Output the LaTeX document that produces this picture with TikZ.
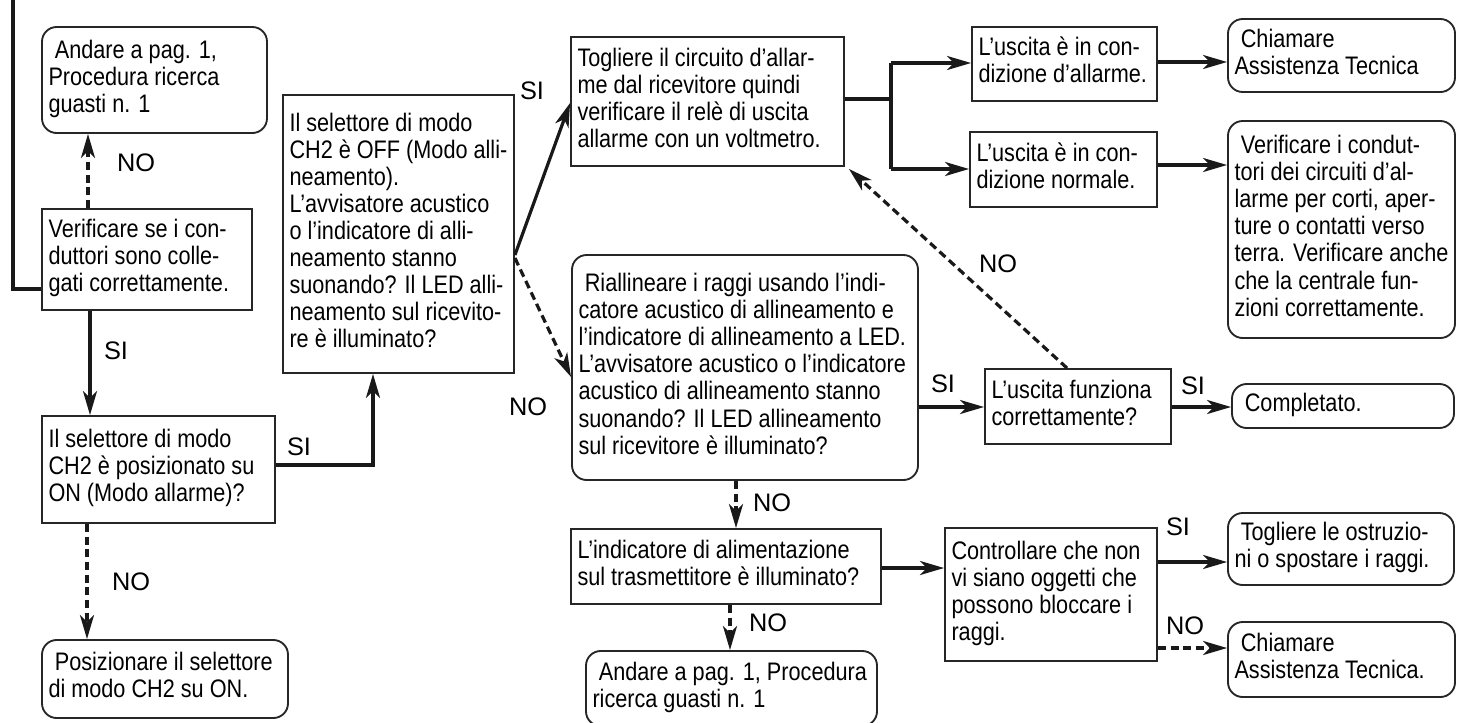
\documentclass[tikz,border=0pt]{standalone}
\usepackage{fontspec}
\setmainfont{Liberation Sans}
\newfontfamily\boxfont[FakeStretch=0.855]{Liberation Sans}
\usetikzlibrary{arrows.meta}
\newcommand\flowbox[7]{%
  \pgfmathsetmacro\tw{(#5-#3-13)*0.75}%
  \pgfmathsetmacro\bw{(#5-#3)*0.75}%
  \pgfmathsetmacro\bh{(#6-#4)*0.75}%
  \pgfmathsetmacro\cx{(#3+#5)/2}%
  \pgfmathsetmacro\cy{(#4+#6)/2}%
  \node[#1, minimum width=\bw pt, minimum height=\bh pt] (#2) at (\cx,\cy) {\makebox[\tw pt][l]{\begin{tabular}{@{}l@{}}#7\end{tabular}}};}
\newcommand\lsp{\hspace{0.25em}}
\begin{document}
\begin{tikzpicture}[x=0.75pt,y=-0.75pt,
  sq/.style={draw=black!85, line width=1.4pt, inner sep=0pt, anchor=center, font=\boxfont\fontsize{19}{20.3}\selectfont},
  rd/.style={sq, rounded corners=11pt},
  conn/.style={line width=2.4pt, draw=black!90},
  arr/.style={conn, -{Stealth[length=18pt,width=10.5pt,inset=5pt]}},
  darr/.style={arr, dash pattern=on 6pt off 3.5pt},
  lbl/.style={font=\fontsize{19}{22}\selectfont, inner sep=0pt}]
\useasboundingbox (0,0) rectangle (1460,722);

% boxes
\flowbox{rd}{A1}{42}{27}{267}{133}{\lsp Andare a pag. 1,\\Procedura ricerca\\guasti n. 1}
\flowbox{sq}{V}{42}{209}{252}{310}{Verificare se i con-\\duttori sono colle-\\gati correttamente.}
\flowbox{sq}{S1}{42}{416}{275}{523}{Il selettore di modo\\CH2 è posizionato su\\ON (Modo allarme)?}
\flowbox{rd}{P}{42}{640}{288}{718}{\lsp Posizionare il selettore\\di modo CH2 su ON.}
\flowbox{sq}{V2}{283}{95}{514}{373}{Il selettore di modo\\CH2 è OFF (Modo alli-\\neamento).\\L’avvisatore acustico\\o l’indicatore di alli-\\neamento stanno\\suonando? Il LED alli-\\neamento sul ricevito-\\re è illuminato?}
\flowbox{sq}{T}{571}{37}{844}{166}{Togliere il circuito d’allar-\\me dal ricevitore quindi\\verificare il relè di uscita\\allarme con un voltmetro.}
\flowbox{rd}{R}{572}{255}{918}{480}{\lsp Riallineare i raggi usando l’indi-\\catore acustico di allineamento e\\l’indicatore di allineamento a LED.\\L’avvisatore acustico o l’indicatore\\acustico di allineamento stanno\\suonando? Il LED allineamento\\sul ricevitore è illuminato?}
\flowbox{sq}{L}{571}{529}{881}{604}{L’indicatore di alimentazione\\sul trasmettitore è illuminato?}
\flowbox{rd}{A2}{586}{651}{877}{726}{\lsp Andare a pag. 1, Procedura\\ricerca guasti n. 1}
\flowbox{sq}{U1}{972}{27}{1157}{101}{L’uscita è in con-\\dizione d’allarme.}
\flowbox{sq}{U2}{970}{132}{1157}{207}{L’uscita è in con-\\dizione normale.}
\flowbox{rd}{C1}{1228}{19}{1455}{92}{\lsp Chiamare\\Assistenza Tecnica}
\flowbox{rd}{VC}{1228}{121}{1455}{338}{\lsp Verificare i condut-\\tori dei circuiti d’al-\\larme per corti, aper-\\ture o contatti verso\\terra. Verificare anche\\che la centrale fun-\\zioni correttamente.}
\flowbox{sq}{F}{985}{369}{1171}{444}{L’uscita funziona\\correttamente?}
\flowbox{rd}{D}{1232}{384}{1454}{428}{\lsp Completato.}
\flowbox{sq}{K}{945}{528}{1157}{661}{Controllare che non\\vi siano oggetti che\\possono bloccare i\\raggi.}
\flowbox{rd}{Tg}{1228}{513}{1454}{585}{\lsp Togliere le ostruzio-\\ni o spostare i raggi.}
\flowbox{rd}{C2}{1228}{622}{1455}{697}{\lsp Chiamare\\Assistenza Tecnica.}

% connectors
\coordinate (top) at (13,-5);
\draw[conn] (top) |- (V.west |- 0,289);
\draw[darr] (88,0 |- V.north) -- (88,0 |- A1.south);
\draw[arr] (90,0 |- V.south) -- (90,0 |- S1.north);
\draw[darr] (87,0 |- S1.south) -- (87,0 |- P.north);
\draw[arr] (S1.east |- 0,465) -| (373,0 |- V2.south);
\draw[arr] (V2.east |- 0,255) -- (T.west |- 0,103);
\draw[darr] (V2.east |- 0,258) -- (R.west |- 0,377);
\coordinate (br) at (891,99);
\draw[conn] (T.east |- br) -- (br);
\draw[conn] (891,63) -- (891,169);
\draw[arr] (891,63) -- (U1.west |- 0,63);
\draw[arr] (891,169) -- (U2.west |- 0,169);
\draw[arr] (U1.east |- 0,62) -- (C1.west |- 0,62);
\draw[arr] (U2.east |- 0,165) -- (VC.west |- 0,165);
\draw[arr] (R.east |- 0,407) -- (F.west |- 0,407);
\draw[darr] (1067,0 |- F.north) -- ([xshift=3pt,yshift=-1.5pt]T.south east);
\draw[arr] (F.east |- 0,407) -- (D.west |- 0,407);
\draw[darr] (736,0 |- R.south) -- (736,0 |- L.north);
\draw[arr] (L.east |- 0,568) -- (K.west |- 0,568);
\draw[darr] (730,0 |- L.south) -- (730,0 |- A2.north);
\draw[arr] (K.east |- 0,562) -- (Tg.west |- 0,562);
\draw[darr] (K.east |- 0,648) -- (C2.west |- 0,648);

% labels
\node[lbl] (l1) at (136,163) {NO};
\node[lbl] (l2) at (116,351) {SI};
\node[lbl] (l3) at (299,447) {SI};
\node[lbl] (l4) at (131,582) {NO};
\node[lbl] (l5) at (532,91) {SI};
\node[lbl] (l6) at (528,407) {NO};
\node[lbl] (l7) at (772,503) {NO};
\node[lbl] (l8) at (768,623) {NO};
\node[lbl] (l9) at (998,264) {NO};
\node[lbl] (l10) at (943,384) {SI};
\node[lbl] (l11) at (1193,386) {SI};
\node[lbl] (l12) at (1178,527) {SI};
\node[lbl] (l13) at (1185,626) {NO};
\end{tikzpicture}
\end{document}
